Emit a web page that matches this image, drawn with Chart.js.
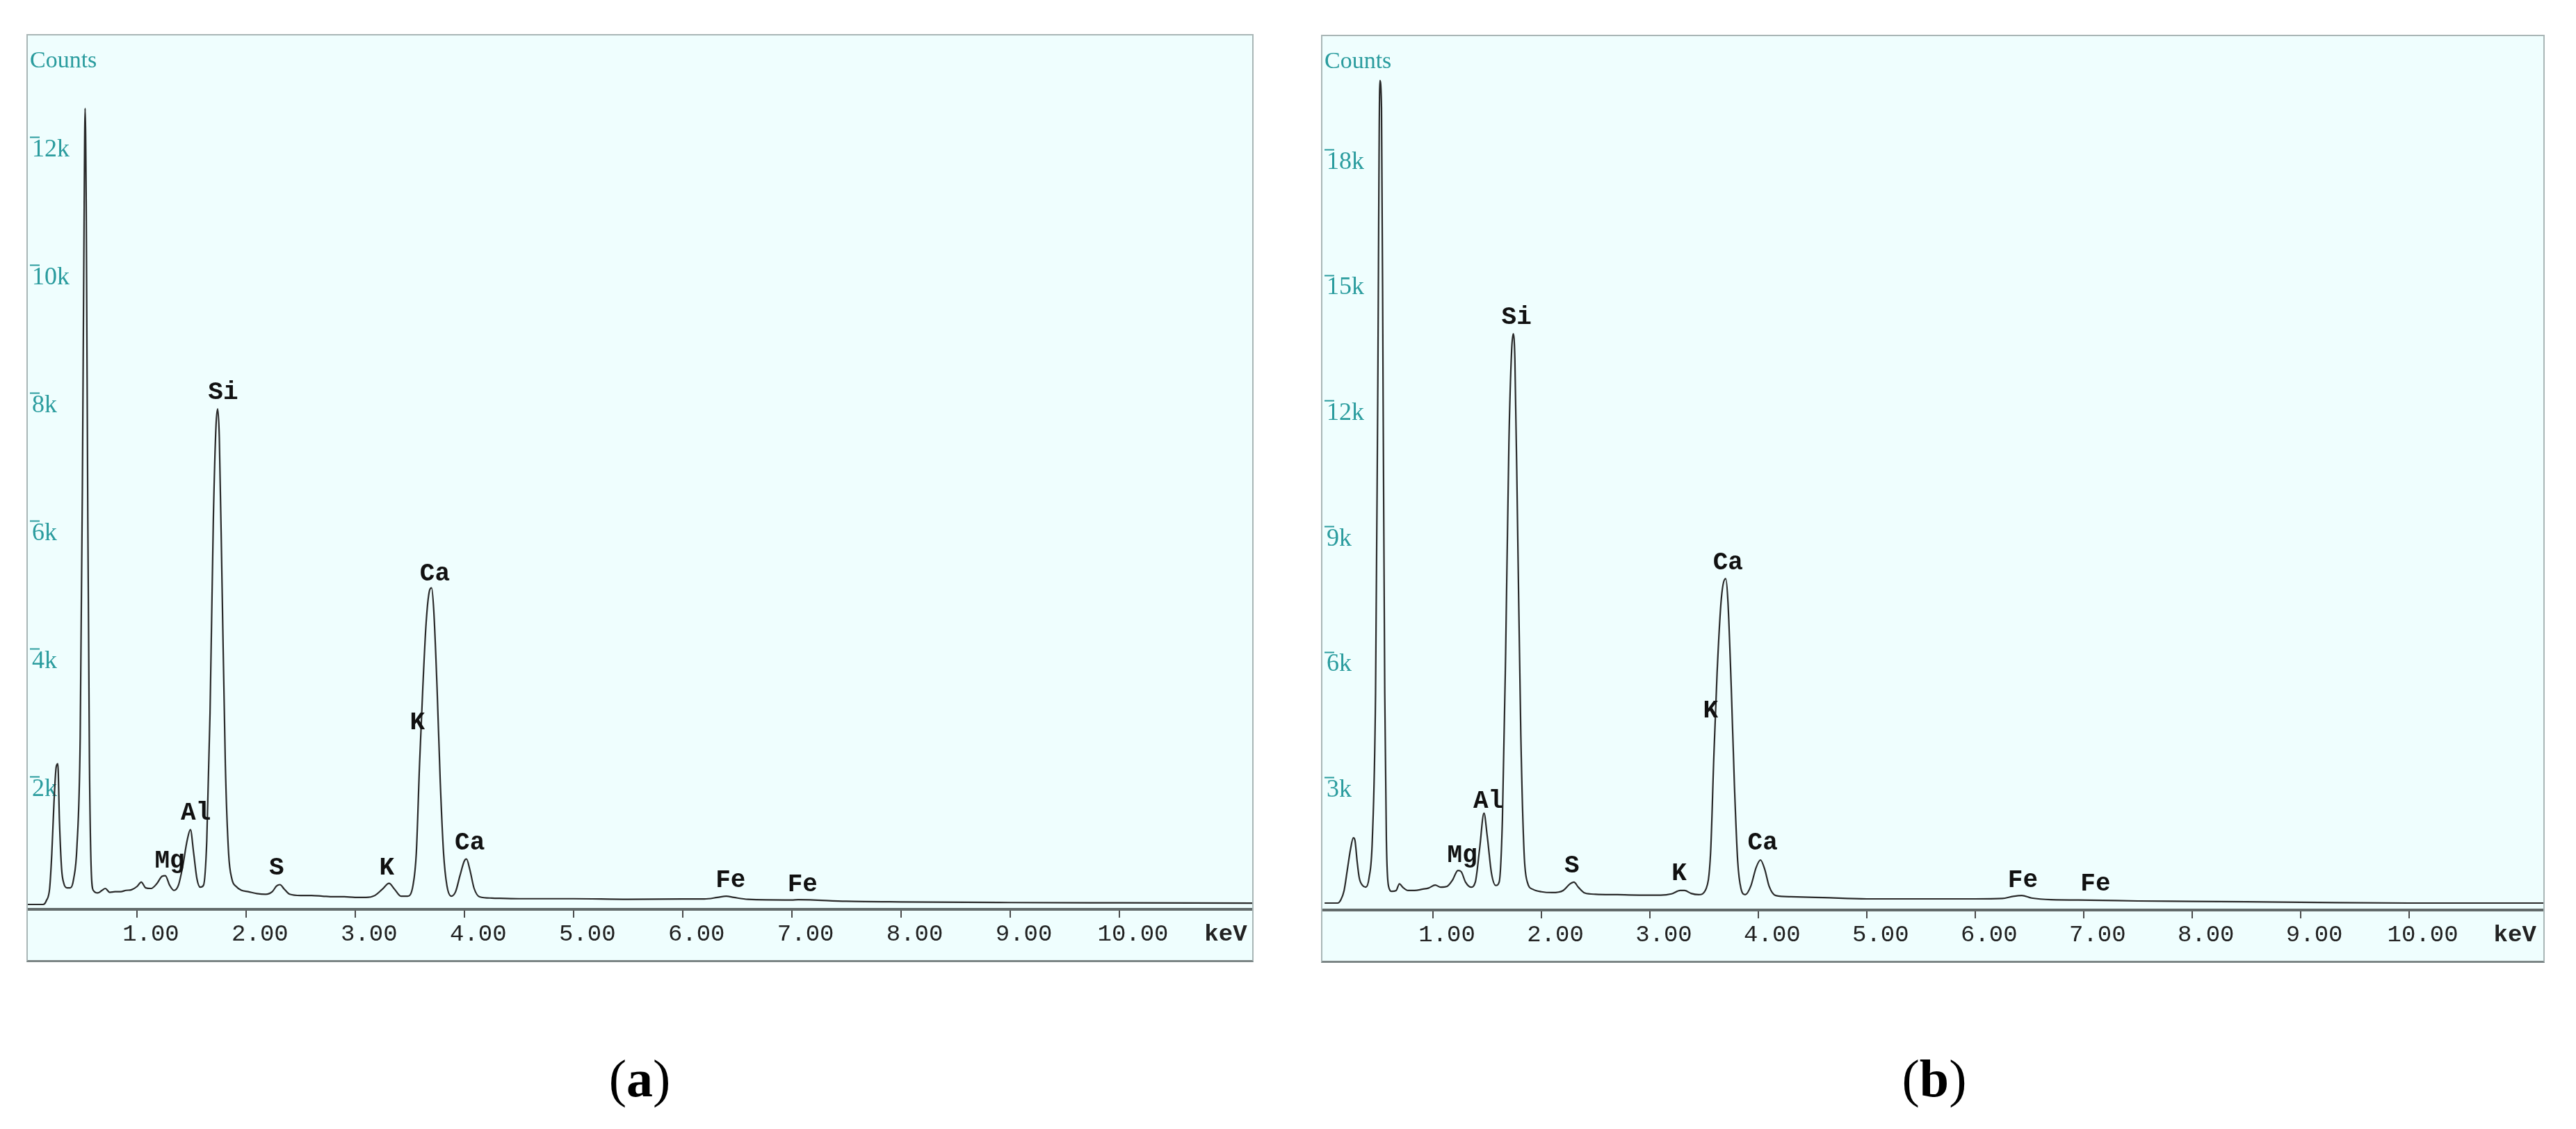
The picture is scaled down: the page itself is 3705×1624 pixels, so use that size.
<!DOCTYPE html>
<html>
<head>
<meta charset="utf-8">
<script src="https://cdn.jsdelivr.net/npm/chart.js@4.4.0/dist/chart.umd.min.js"></script>
<style>
  body { margin: 0; width: 3705px; height: 1624px; background: #fff; position: relative; overflow: hidden; }
  .painel { position: absolute; box-sizing: border-box; background: #effefe; border: 2px solid #a9b6b6; border-bottom: 3px solid #7c8686; }
  .painel div { position: relative; width: 100%; height: 100%; }
  .legenda { position: absolute; top: 1508px; font-family: "Liberation Serif", serif; font-size: 76px; transform: translateX(-50%); }
</style>
</head>
<body>
<div class="painel" style="left:38px;top:49px;width:1765px;height:1335px"><div><canvas id="graficoA"></canvas></div></div>
<div class="painel" style="left:1900px;top:50px;width:1760px;height:1335px"><div><canvas id="graficoB"></canvas></div></div>
<div class="legenda" style="left:920px">(<b>a</b>)</div>
<div class="legenda" style="left:2782px">(<b>b</b>)</div>

<script>
// espectro (a): energia em keV e contagens
const energiaA = [0, 0.14, 0.17, 0.20, 0.22, 0.24, 0.26, 0.275, 0.29, 0.31, 0.33, 0.36, 0.39, 0.42, 0.45, 0.48, 0.50, 0.515, 0.525, 0.535,
  0.55, 0.565, 0.58, 0.60, 0.64, 0.68, 0.71, 0.75, 0.80, 0.85, 0.90, 0.95, 1.00, 1.04, 1.08, 1.13, 1.18, 1.23, 1.26, 1.30,
  1.34, 1.38, 1.42, 1.46, 1.49, 1.52, 1.55, 1.58, 1.61, 1.64, 1.67, 1.70, 1.725, 1.74, 1.755, 1.78, 1.81, 1.84, 1.87, 1.91,
  1.96, 2.02, 2.10, 2.18, 2.24, 2.28, 2.31, 2.35, 2.40, 2.50, 2.60, 2.70, 2.80, 2.90, 3.00, 3.10, 3.18, 3.25, 3.31, 3.36,
  3.42, 3.48, 3.53, 3.56, 3.59, 3.62, 3.65, 3.68, 3.70, 3.72, 3.75, 3.78, 3.81, 3.84, 3.88, 3.92, 3.96, 4.00, 4.02, 4.05,
  4.09, 4.14, 4.25, 4.50, 5.00, 5.50, 6.00, 6.20, 6.32, 6.40, 6.47, 6.60, 7.00, 7.06, 7.50, 8.00, 9.00, 10.00, 11.22];
const contagensA = [0, 0, 60, 250, 800, 1600, 2150, 2200, 1300, 550, 330, 260, 260, 400, 900, 2600, 6500, 10500, 12450, 11000,
  6000, 2200, 600, 220, 180, 220, 250, 190, 200, 200, 220, 230, 280, 350, 260, 250, 320, 440, 450, 300,
  220, 300, 600, 1000, 1170, 800, 400, 270, 300, 1000, 3000, 6000, 7500, 7750, 7300, 5000, 2200, 800, 400, 280,
  220, 200, 170, 160, 200, 290, 310, 240, 160, 140, 140, 130, 120, 120, 110, 110, 140, 240, 330, 240,
  130, 130, 300, 800, 2200, 3400, 4400, 4900, 4950, 4600, 3400, 1900, 800, 300, 130, 200, 450, 680, 710, 550,
  250, 120, 100, 90, 90, 80, 85, 85, 110, 130, 110, 80, 70, 75, 50, 40, 30, 25, 20];

// espectro (b)
const energiaB = [0, 0.12, 0.15, 0.18, 0.21, 0.24, 0.265, 0.28, 0.30, 0.32, 0.35, 0.38, 0.41, 0.44, 0.47, 0.49, 0.51, 0.525, 0.54, 0.555,
  0.57, 0.59, 0.62, 0.66, 0.69, 0.72, 0.77, 0.83, 0.90, 0.96, 1.02, 1.07, 1.13, 1.18, 1.23, 1.26, 1.30, 1.35, 1.39, 1.43,
  1.47, 1.50, 1.54, 1.58, 1.61, 1.64, 1.67, 1.70, 1.725, 1.74, 1.755, 1.78, 1.81, 1.84, 1.87, 1.92, 2.00, 2.10, 2.20, 2.26,
  2.30, 2.34, 2.40, 2.50, 2.70, 2.90, 3.10, 3.20, 3.28, 3.32, 3.38, 3.45, 3.52, 3.56, 3.59, 3.62, 3.66, 3.70, 3.72, 3.75,
  3.78, 3.81, 3.84, 3.88, 3.93, 3.98, 4.02, 4.06, 4.10, 4.16, 4.30, 4.60, 5.00, 5.50, 6.00, 6.25, 6.35, 6.43, 6.52, 6.70,
  7.06, 7.50, 8.00, 9.00, 10.00, 11.24];
const contagensB = [0, 0, 80, 300, 800, 1300, 1560, 1500, 1000, 600, 420, 380, 600, 1500, 5000, 12000, 19650, 19000, 12000, 5000,
  1500, 400, 280, 300, 460, 380, 300, 300, 330, 360, 430, 380, 400, 550, 780, 750, 500, 380, 500, 1300,
  2150, 1600, 700, 420, 500, 2000, 6000, 11000, 13200, 13600, 13000, 9000, 4000, 1200, 500, 330, 270, 250, 300, 450,
  500, 380, 240, 210, 200, 190, 190, 220, 300, 300, 230, 200, 350, 1200, 3500, 5500, 7300, 7750, 7200, 5200,
  2800, 1000, 350, 200, 400, 850, 1030, 800, 400, 180, 150, 130, 100, 100, 100, 110, 160, 180, 120, 80,
  70, 50, 40, 20, 0, 0];

// ticks
const ticksKev = [1, 2, 3, 4, 5, 6, 7, 8, 9, 10];
const posKev = 10.85; // onde fica o rotulo "keV"
const ticksYA = [2000, 4000, 6000, 8000, 10000, 12000];
const ticksYB = [3000, 6000, 9000, 12000, 15000, 18000];

// rotulos dos picos
const picos = ['Mg', 'Al', 'Si', 'S', 'K', 'K', 'Ca', 'Ca', 'Fe', 'Fe'];
const picosKevA = [1.30, 1.54, 1.79, 2.28, 3.29, 3.57, 3.73, 4.05, 6.44, 7.10];
const picosContA = [670, 1420, 8000, 570, 570, 2840, 5170, 960, 370, 310];
const picosKevB = [1.27, 1.51, 1.77, 2.28, 3.27, 3.56, 3.72, 4.04, 6.44, 7.11];
const picosContB = [1130, 2430, 13980, 880, 700, 4580, 8120, 1430, 530, 450];

const teal = '#2a9c9e';

function criarGrafico(id, energia, contagens, ticksY, picosKev, picosCont, lim) {
  const ctx = document.getElementById(id).getContext('2d');

  // desenha nomes dos elementos, tracinhos do eixo y e "Counts"
  const rotulos = {
    id: 'rotulos',
    afterDatasetsDraw(chart) {
      const { ctx, scales: { x, y } } = chart;
      ctx.save();
      ctx.font = 'bold 36px "Liberation Mono"';
      ctx.fillStyle = '#111';
      ctx.textAlign = 'center';
      ctx.textBaseline = 'middle';
      picos.forEach((p, i) => {
        ctx.fillText(p, x.getPixelForValue(picosKev[i]), y.getPixelForValue(picosCont[i]));
      });

      ctx.strokeStyle = teal;
      ctx.lineWidth = 2;
      y.ticks.forEach(t => {
        const py = Math.round(y.getPixelForValue(t.value)) + 0.5;
        ctx.beginPath();
        ctx.moveTo(x.left + 3, py);
        ctx.lineTo(x.left + 17, py);
        ctx.stroke();
      });

      ctx.font = '34px "Liberation Serif"';
      ctx.textAlign = 'left';
      ctx.fillStyle = teal;
      ctx.fillText('Counts', x.left + 3, 37);
      ctx.restore();
    }
  };

  new Chart(ctx, {
    type: 'line',
    data: {
      datasets: [{
        data: energia.map((e, i) => ({ x: e, y: contagens[i] })),
        borderColor: '#2a2a2a',
        borderWidth: 2.2,
        pointRadius: 0,
        cubicInterpolationMode: 'monotone',
        fill: false
      }]
    },
    options: {
      responsive: true,
      maintainAspectRatio: false,
      animation: false,
      layout: { padding: 0 },
      plugins: { legend: { display: false }, tooltip: { enabled: false } },
      scales: {
        x: {
          type: 'linear',
          min: lim.xMin,
          max: lim.xMax,
          afterBuildTicks: s => { s.ticks = ticksKev.concat([posKev]).map(v => ({ value: v })); },
          afterFit: s => { s.height = 73; s.paddingLeft = 0; s.paddingRight = 0; },
          grid: {
            drawOnChartArea: false,
            tickLength: 12,
            lineWidth: 2,
            color: c => (c.tick && c.tick.value === posKev) ? 'rgba(0,0,0,0)' : '#4a4a4a'
          },
          border: { display: true, color: '#626a6a', width: 4 },
          ticks: {
            autoSkip: false,
            maxRotation: 0,
            padding: 4,
            labelOffset: 20,
            color: '#222',
            font: c => ({ family: 'Liberation Mono', size: 34, weight: (c.tick && c.tick.value === posKev) ? 'bold' : 'normal' }),
            callback: v => v === posKev ? 'keV' : v.toFixed(2)
          }
        },
        y: {
          type: 'linear',
          min: lim.yMin,
          max: lim.yMax,
          afterBuildTicks: s => { s.ticks = ticksY.map(v => ({ value: v })); },
          afterFit: s => { s.width = 0; s.paddingTop = 0; s.paddingBottom = 0; },
          grid: { display: false },
          border: { display: false },
          ticks: {
            mirror: true,
            padding: 6,
            labelOffset: 18,
            color: teal,
            font: { family: 'Liberation Serif', size: 36 },
            callback: v => (v / 1000) + 'k'
          }
        }
      }
    },
    plugins: [rotulos]
  });
}

criarGrafico('graficoA', energiaA, contagensA, ticksYA, picosKevA, picosContA,
  { xMin: 0, xMax: 11.22, yMin: -76, yMax: 13590 });
criarGrafico('graficoB', energiaB, contagensB, ticksYB, picosKevB, picosContB,
  { xMin: -0.02, xMax: 11.24, yMin: -166, yMax: 20710 });
</script>
</body>
</html>
